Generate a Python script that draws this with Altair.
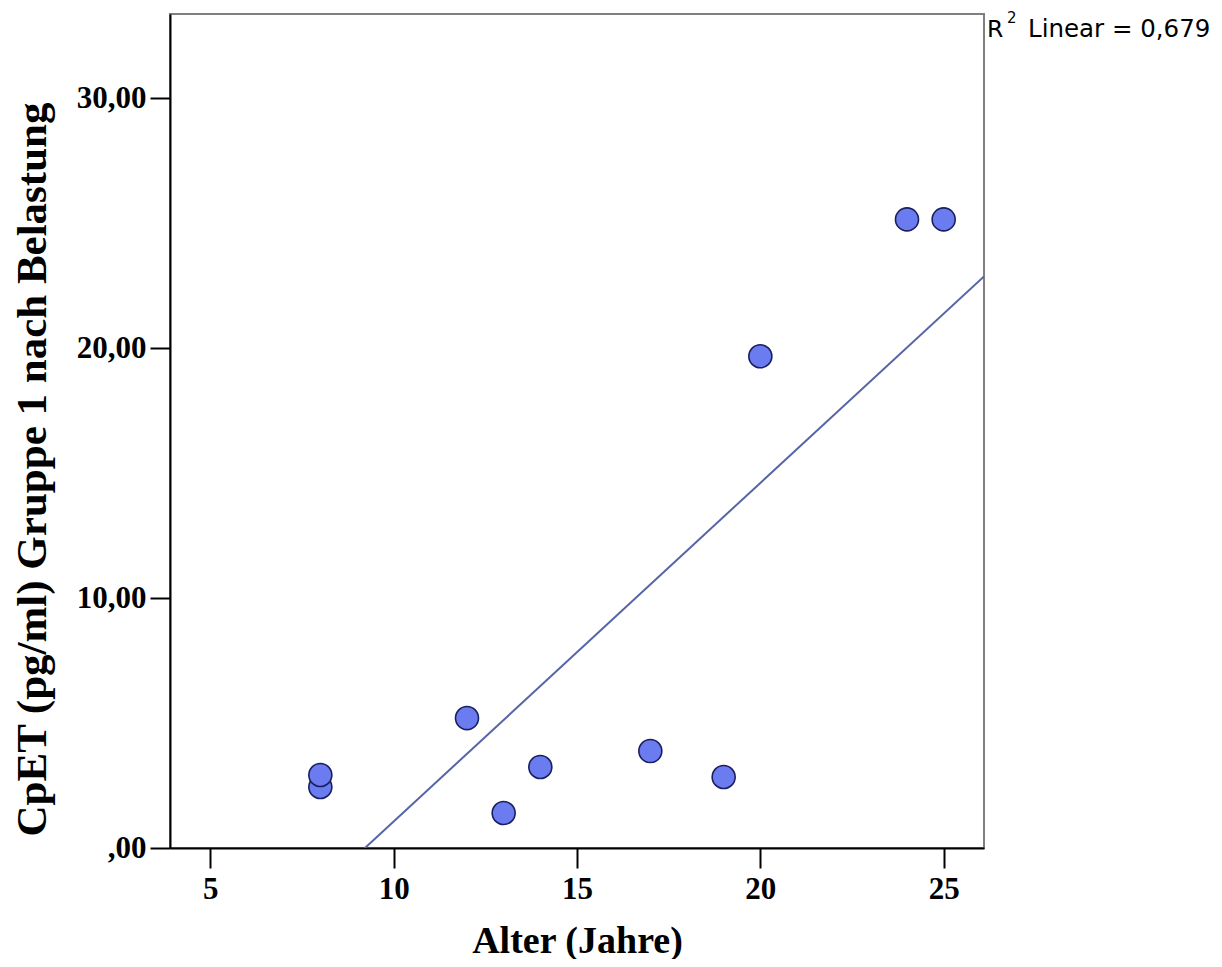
import altair as alt
import pandas as pd

# Data
alter = [8, 8, 12, 13, 14, 17, 19, 20, 24, 25]
cpet = [2.44, 2.92, 5.20, 1.40, 3.24, 3.88, 2.84, 19.68, 25.16, 25.16]
x_ticks = [5, 10, 15, 20, 25]
y_ticks = [0, 10, 20, 30]
r2_value = "Linear = 0,679"

df = pd.DataFrame({"alter": alter, "cpet": cpet})

W, H = 814, 834
x_dom = [3.9, 26.1]
y_dom = [0, 33.38]
xs = alt.Scale(domain=x_dom, nice=False, zero=False)
ys = alt.Scale(domain=y_dom, nice=False, zero=False)

serif = "Liberation Serif"
common = dict(
    labelFont=serif, labelFontWeight="bold", labelFontSize=31, labelColor="black",
    tickSize=20, tickWidth=2, tickColor="black",
    domainColor="black", domainWidth=2, grid=False,
    titleFont=serif, titleFontWeight="bold", titleColor="black",
)

x_axis = alt.Axis(values=x_ticks, title="Alter (Jahre)", labelPadding=6,
                  titleFontSize=38, titleY=104, titleBaseline="alphabetic", **common)
y_axis = alt.Axis(values=y_ticks, title="CpET (pg/ml) Gruppe 1 nach Belastung",
                  labelExpr="datum.value == 0 ? ',00' : replace(format(datum.value, '.2f'), '.', ',')",
                  labelPadding=4, titleFontSize=43, titleAngle=-90, titleX=-125, titleY=455,
                  titleBaseline="alphabetic", titleAlign="center", **common)

base = alt.Chart(df)

line = base.transform_regression("alter", "cpet", extent=x_dom).mark_line(
    clip=True, color="#5565a6", strokeWidth=2
).encode(
    x=alt.X("alter:Q", scale=xs, axis=x_axis),
    y=alt.Y("cpet:Q", scale=ys, axis=y_axis),
)

points = base.mark_circle(
    size=530, opacity=1, fill="#6b7cf0", stroke="#1a1f5e", strokeWidth=1.6
).encode(
    x=alt.X("alter:Q", scale=xs),
    y=alt.Y("cpet:Q", scale=ys),
)

sans = "DejaVu Sans"
t_r = alt.Chart(pd.DataFrame({"t": ["R"]})).mark_text(
    font=sans, fontSize=23.5, align="left", baseline="alphabetic", color="black"
).encode(text="t:N", x=alt.value(817), y=alt.value(23))
t_2 = alt.Chart(pd.DataFrame({"t": ["2"]})).mark_text(
    font=sans, fontSize=15, align="left", baseline="alphabetic", color="black"
).encode(text="t:N", x=alt.value(837), y=alt.value(9))
t_lin = alt.Chart(pd.DataFrame({"t": [r2_value]})).mark_text(
    font=sans, fontSize=24.5, align="left", baseline="alphabetic", color="black"
).encode(text="t:N", x=alt.value(858), y=alt.value(23))

chart = alt.layer(line, points, t_r, t_2, t_lin).properties(
    width=W, height=H,
    autosize=alt.AutoSizeParams(type="none"),
    padding={"left": 162, "top": 6, "right": 230, "bottom": 111},
    background="white",
).configure_view(stroke="#7f7f7f", strokeWidth=2)

chart.save("out.html", embed_options={"renderer": "svg", "actions": False})
